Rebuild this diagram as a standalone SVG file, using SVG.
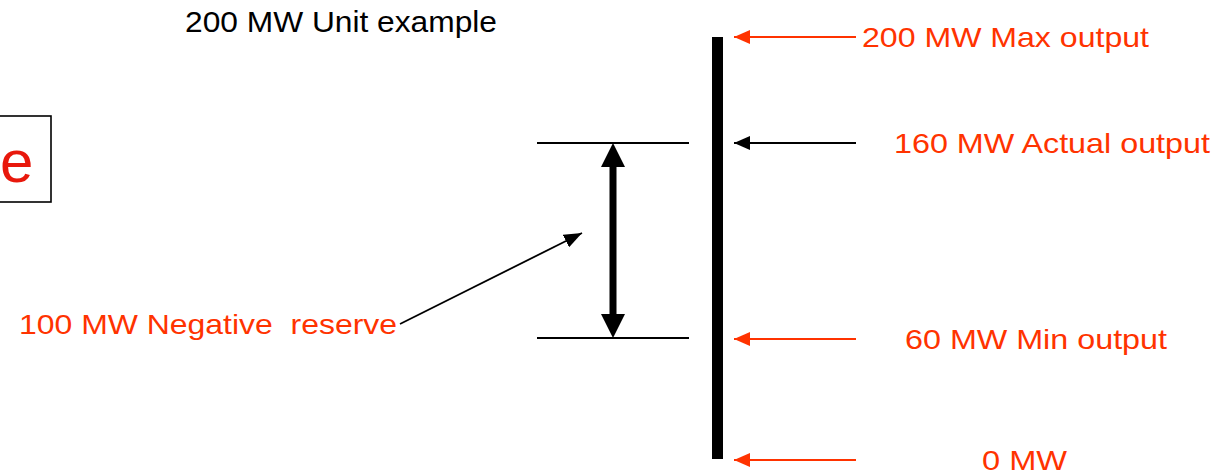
<svg xmlns="http://www.w3.org/2000/svg" width="1222" height="475" viewBox="0 0 1222 475">
<style>
.t{font-family:"Liberation Sans",Arial,sans-serif;font-size:28px}
.red{fill:#ff3300}
.blk{fill:#000}
.thin{stroke:#000;stroke-width:1.8;fill:none}
.redl{stroke:#ff3300;stroke-width:2;fill:none}
.blkl{stroke:#000;stroke-width:1.8;fill:none}
</style>
<defs>
<marker id="ahRed" viewBox="0 0 16 14" refX="16" refY="7" markerWidth="16" markerHeight="14" markerUnits="userSpaceOnUse" orient="auto"><path d="M0,0 L16,7 L0,14 z" fill="#ff3300"/></marker>
<marker id="ahBlk" viewBox="0 0 16 14" refX="16" refY="7" markerWidth="16" markerHeight="14" markerUnits="userSpaceOnUse" orient="auto"><path d="M0,0 L16,7 L0,14 z" fill="#000"/></marker>
<marker id="ahBig" viewBox="0 0 24 24" refX="2" refY="12" markerWidth="24" markerHeight="24" markerUnits="userSpaceOnUse" orient="auto-start-reverse"><path d="M0,0 L24,12 L0,24 z" fill="#000"/></marker>
<marker id="ahLead" viewBox="0 0 18 14" refX="18" refY="7" markerWidth="18" markerHeight="14" markerUnits="userSpaceOnUse" orient="auto"><path d="M0,0 L18,7 L0,14 z" fill="#000"/></marker>
</defs>
<rect width="1222" height="475" fill="#fff"/>
<g id="title"><text class="t blk" x="185" y="32" style="font-size:30px" textLength="312" lengthAdjust="spacingAndGlyphs">200 MW Unit example</text></g>
<g id="boxed-label"><rect x="-10" y="116" width="61" height="86" fill="#fff" stroke="#000" stroke-width="1.6"/><text class="t" x="0" y="182" style="font-size:60px;fill:#e8180c">e</text></g>
<g id="unit-bar"><rect x="712" y="37" width="11" height="422" fill="#000"/></g>
<g id="reserve-band"><line class="thin" x1="537" y1="143" x2="689" y2="143"/><line class="thin" x1="537" y1="338" x2="689" y2="338"/></g>
<g id="label-max"><text class="t red" x="862" y="47" textLength="287" lengthAdjust="spacingAndGlyphs">200 MW Max output</text></g>
<g id="label-actual"><text class="t red" x="894" y="153" textLength="316" lengthAdjust="spacingAndGlyphs">160 MW Actual output</text></g>
<g id="label-min"><text class="t red" x="905" y="349" textLength="262" lengthAdjust="spacingAndGlyphs">60 MW Min output</text></g>
<g id="label-zero"><text class="t red" x="982" y="470" textLength="85" lengthAdjust="spacingAndGlyphs">0 MW</text></g>
<g id="label-negative"><text class="t red" x="19" y="334" xml:space="preserve" textLength="378" lengthAdjust="spacingAndGlyphs">100 MW Negative  reserve</text></g>
<g id="connectors">
<line class="redl" x1="856" y1="37" x2="734" y2="37" marker-end="url(#ahRed)"/>
<line class="blkl" x1="856" y1="143" x2="734" y2="143" marker-end="url(#ahBlk)"/>
<line class="redl" x1="856" y1="339" x2="734" y2="339" marker-end="url(#ahRed)"/>
<line class="redl" x1="856" y1="460" x2="734" y2="460" marker-end="url(#ahRed)"/>
<line x1="613" y1="165" x2="613" y2="316" stroke="#000" stroke-width="7" marker-start="url(#ahBig)" marker-end="url(#ahBig)"/>
<line class="thin" x1="400" y1="324" x2="582" y2="233" marker-end="url(#ahLead)"/>
</g>
</svg>
